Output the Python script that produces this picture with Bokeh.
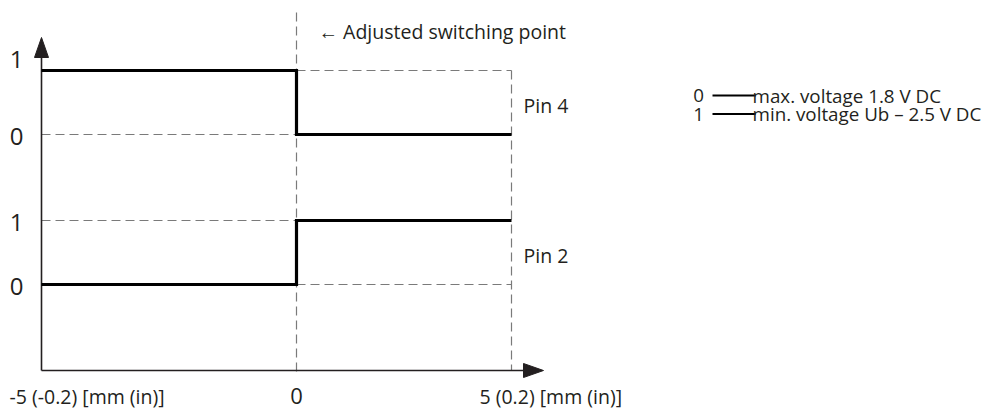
import numpy as np
from bokeh.plotting import figure
from bokeh.models import Range1d
from bokeh.core.properties import value
from bokeh.embed import file_html
from bokeh.resources import INLINE

# ---------------- data ----------------
X_MM = [-5, 0, 5]                 # travel start, switching point, travel end [mm]
PIN4_LEVELS = [1, 0]              # level before / after the switching point
PIN2_LEVELS = [0, 1]
TRACK_NAMES = ["Pin 4", "Pin 2"]
LEVEL_LABELS = ["0", "1"]
X_TICK_LABELS = ["-5 (-0.2) [mm (in)]", "0", "5 (0.2) [mm (in)]"]
LEGEND_KEYS = ["0", "1"]
LEGEND_TEXTS = ["max. voltage 1.8 V DC", "min. voltage Ub \u2013 2.5 V DC"]
ANNOTATION = "\u2190  Adjusted switching point"

# ---------------- layout ----------------
W, H = 987, 410
PX_PER_MM = 51.0
RIGHT_SCALE = 215.0 / 255.0       # schematic: the right half is drawn shorter
PX_PER_LEVEL = 64.0
AXIS_LEFT_PX = 41.0               # y axis position from the figure's left
PIN2_ZERO_PX = 284.0              # pin 2 level 0, from the figure's top
TRACK_GAP = 150.0 / PX_PER_LEVEL  # pin 4 base above pin 2 base (levels)
TRACK_BASES = [TRACK_GAP, 0.0]

FONT = "Open Sans"
TXT = "#231f20"
DASH_COL = "#7a7a7a"
FS = "19.5px"
FS_LEG = "18.8px"
FS_DIGIT = "24px"
FS_XZERO = "22px"

x_start = X_MM[0] - AXIS_LEFT_PX / PX_PER_MM
y_top = PIN2_ZERO_PX / PX_PER_LEVEL


def sx(v):
    v = np.asarray(v, dtype=float)
    return np.where(v <= 0, v, v * RIGHT_SCALE)


def fx(px):   # pixel (from left) -> data x
    return x_start + px / PX_PER_MM


def fy(py):   # pixel (from top) -> data y
    return (PIN2_ZERO_PX - py) / PX_PER_LEVEL


p = figure(width=W, height=H, output_backend="svg", toolbar_location=None,
           x_range=Range1d(x_start, x_start + W / PX_PER_MM),
           y_range=Range1d(fy(H), y_top), min_border=0)
p.axis.visible = False
p.grid.visible = False
p.outline_line_color = None
p.background_fill_color = "white"

AXIS_Y = fy(370)
x_lo, x_sw, x_hi = [float(v) for v in sx(X_MM)]

# ---- dashed guide lines ----
dash = dict(line_color=DASH_COL, line_width=1.2, line_dash="9 5")
gx0, gx1, gy = [], [], []
for levels, base in zip([PIN4_LEVELS, PIN2_LEVELS], TRACK_BASES):
    a, b = levels
    gx0 += [x_lo, x_sw]
    gx1 += [x_sw, x_hi]
    gy += [base + b, base + a]
p.segment(x0=gx0, y0=gy, x1=gx1, y1=gy, **dash)
top_level = TRACK_BASES[0] + max(PIN4_LEVELS)
p.segment(x0=[x_sw, x_hi], y0=[fy(12), top_level], x1=[x_sw, x_hi],
          y1=[fy(373), AXIS_Y], **dash)

# ---- axes with arrow heads ----
y_tip = fy(37)
x_tip = fx(543)
p.segment(x0=[x_lo, x_lo], y0=[AXIS_Y, AXIS_Y], x1=[x_lo, x_tip - 20 / PX_PER_MM],
          y1=[y_tip - 20 / PX_PER_LEVEL, AXIS_Y], line_color=TXT, line_width=1.6)
hw_x = 7 / PX_PER_MM
hw_y = 7 / PX_PER_LEVEL
p.patches(xs=[[x_lo - hw_x, x_lo, x_lo + hw_x],
              [x_tip - 20 / PX_PER_MM, x_tip, x_tip - 20 / PX_PER_MM]],
          ys=[[y_tip - 20 / PX_PER_LEVEL, y_tip, y_tip - 20 / PX_PER_LEVEL],
              [AXIS_Y + hw_y, AXIS_Y, AXIS_Y - hw_y]],
          fill_color=TXT, line_color=TXT, line_width=1)

# ---- signal traces ----
for levels, base in zip([PIN4_LEVELS, PIN2_LEVELS], TRACK_BASES):
    a, b = levels
    p.line(x=[x_lo, x_sw, x_sw, x_hi], y=[base + a, base + a, base + b, base + b],
           line_color="black", line_width=3.2, line_join="miter")

# ---- level labels (y "ticks") ----
lx, ly, lt, loff = [], [], [], []
for base in TRACK_BASES:
    for lab in LEVEL_LABELS:
        lx.append(x_lo)
        ly.append(base + float(lab))
        lt.append(lab)
        loff.append(2.0)
loff[ly.index(max(ly))] = -11.0   # top label sits clear of the arrow head
p.text(x=lx, y=ly, text=lt, x_offset=-25, y_offset=loff, text_align="center",
       text_baseline="middle", text_font=value(FONT), text_font_size=FS_DIGIT,
       text_color=TXT)

# ---- track names ----
p.text(x=[x_hi, x_hi], y=[b + 0.5 for b in TRACK_BASES], text=TRACK_NAMES,
       x_offset=12, y_offset=3, text_align="left", text_baseline="middle",
       text_font=value(FONT), text_font_size=FS, text_color=TXT)

# ---- x labels ----
xt = [float(v) for v in sx(X_MM)]
p.text(x=[xt[0], xt[2]], y=[AXIS_Y, AXIS_Y], text=[X_TICK_LABELS[0], X_TICK_LABELS[2]],
       x_offset=-32, y_offset=26, text_align="left", text_baseline="middle",
       text_font=value(FONT), text_font_size=FS, text_color=TXT)
p.text(x=[xt[1]], y=[AXIS_Y], text=[X_TICK_LABELS[1]], x_offset=0, y_offset=25,
       text_align="center", text_baseline="middle", text_font=value(FONT),
       text_font_size=FS_XZERO, text_color=TXT)

# ---- annotation ----
p.text(x=[x_sw], y=[fy(31)], text=[ANNOTATION], x_offset=22, text_align="left",
       text_baseline="middle", text_font=value(FONT), text_font_size=FS,
       text_color=TXT)

# ---- legend ----
leg_y = [fy(95), fy(113.5)]
p.text(x=[fx(698)] * 2, y=leg_y, text=LEGEND_KEYS, text_align="center",
       text_baseline="middle", text_font=value(FONT), text_font_size=FS_LEG,
       text_color=TXT)
p.segment(x0=[fx(712)] * 2, y0=leg_y, x1=[fx(755)] * 2, y1=leg_y,
          line_color="black", line_width=2)
p.text(x=[fx(752)] * 2, y=leg_y, text=LEGEND_TEXTS, text_align="left",
       text_baseline="middle", text_font=value(FONT), text_font_size=FS_LEG,
       text_color=TXT)

open("out.html", "w").write(file_html(p, INLINE))
